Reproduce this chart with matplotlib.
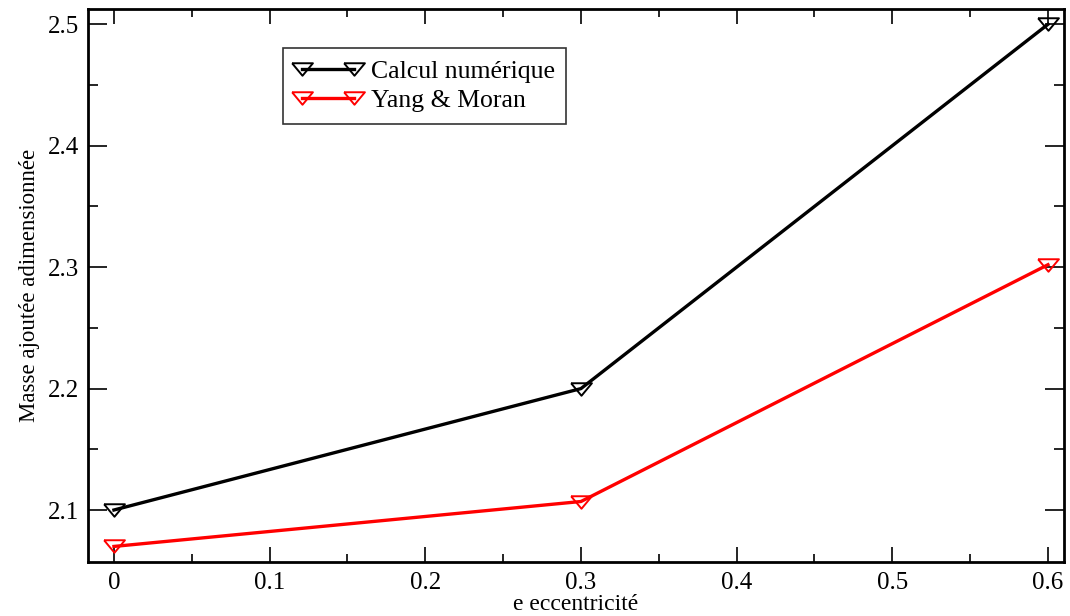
import numpy as np
import matplotlib.pyplot as plt
from matplotlib.ticker import MultipleLocator, FuncFormatter

plt.rcParams['font.family'] = ['Liberation Serif', 'DejaVu Serif']

# donnees
e = [0, 0.3, 0.6]
calcul = [2.1, 2.2, 2.5]
yang_moran = [2.07, 2.107, 2.302]
labels = ['Calcul numérique', 'Yang & Moran']

# triangle aplati (comme xmgrace)
tri = [(-1, 0.6), (1, 0.6), (0, -0.6), (-1, 0.6)]

fig = plt.figure(figsize=(10.7, 6.16), dpi=100)
ax = fig.add_axes([0.0822, 0.0877, 0.9122, 0.8977])

ax.plot(e, calcul, color='black', lw=2.4, marker=tri, ms=15,
        mfc='none', mec='black', mew=1.4, label=labels[0])
ax.plot(e, yang_moran, color='red', lw=2.4, marker=tri, ms=15,
        mfc='none', mec='red', mew=1.4, label=labels[1])

ax.set_xlim(-0.0167, 0.6103)
ax.set_ylim(2.0572, 2.5126)

ax.xaxis.set_major_locator(MultipleLocator(0.1))
ax.xaxis.set_minor_locator(MultipleLocator(0.05))
ax.yaxis.set_major_locator(MultipleLocator(0.1))
ax.yaxis.set_minor_locator(MultipleLocator(0.05))
ax.xaxis.set_major_formatter(FuncFormatter(lambda v, p: '0' if abs(v) < 1e-9 else '%.1f' % v))
ax.yaxis.set_major_formatter(FuncFormatter(lambda v, p: '%.1f' % v))

ax.tick_params(which='both', direction='in', top=True, right=True,
               labelsize=18, width=1.2)
ax.tick_params(axis='x', which='major', length=11, pad=7)
ax.tick_params(axis='x', which='minor', length=5.5)
ax.tick_params(axis='y', which='major', length=14, pad=6)
ax.tick_params(axis='y', which='minor', length=7)
for s in ax.spines.values():
    s.set_linewidth(2)

ax.set_xlabel('e eccentricité', fontsize=17, labelpad=0)
ax.set_ylabel('Masse ajoutée adimensionnée', fontsize=16.5, labelpad=6)

leg = ax.legend(loc='upper left', bbox_to_anchor=(0.2, 0.929), numpoints=2,
                fontsize=18.5, frameon=True, fancybox=False, borderpad=0.45,
                handlelength=2.6, handletextpad=0.35, labelspacing=0.25,
                borderaxespad=0)
leg.get_frame().set_edgecolor('black')
leg.get_frame().set_linewidth(1.2)

plt.savefig('out.png', dpi=100)
